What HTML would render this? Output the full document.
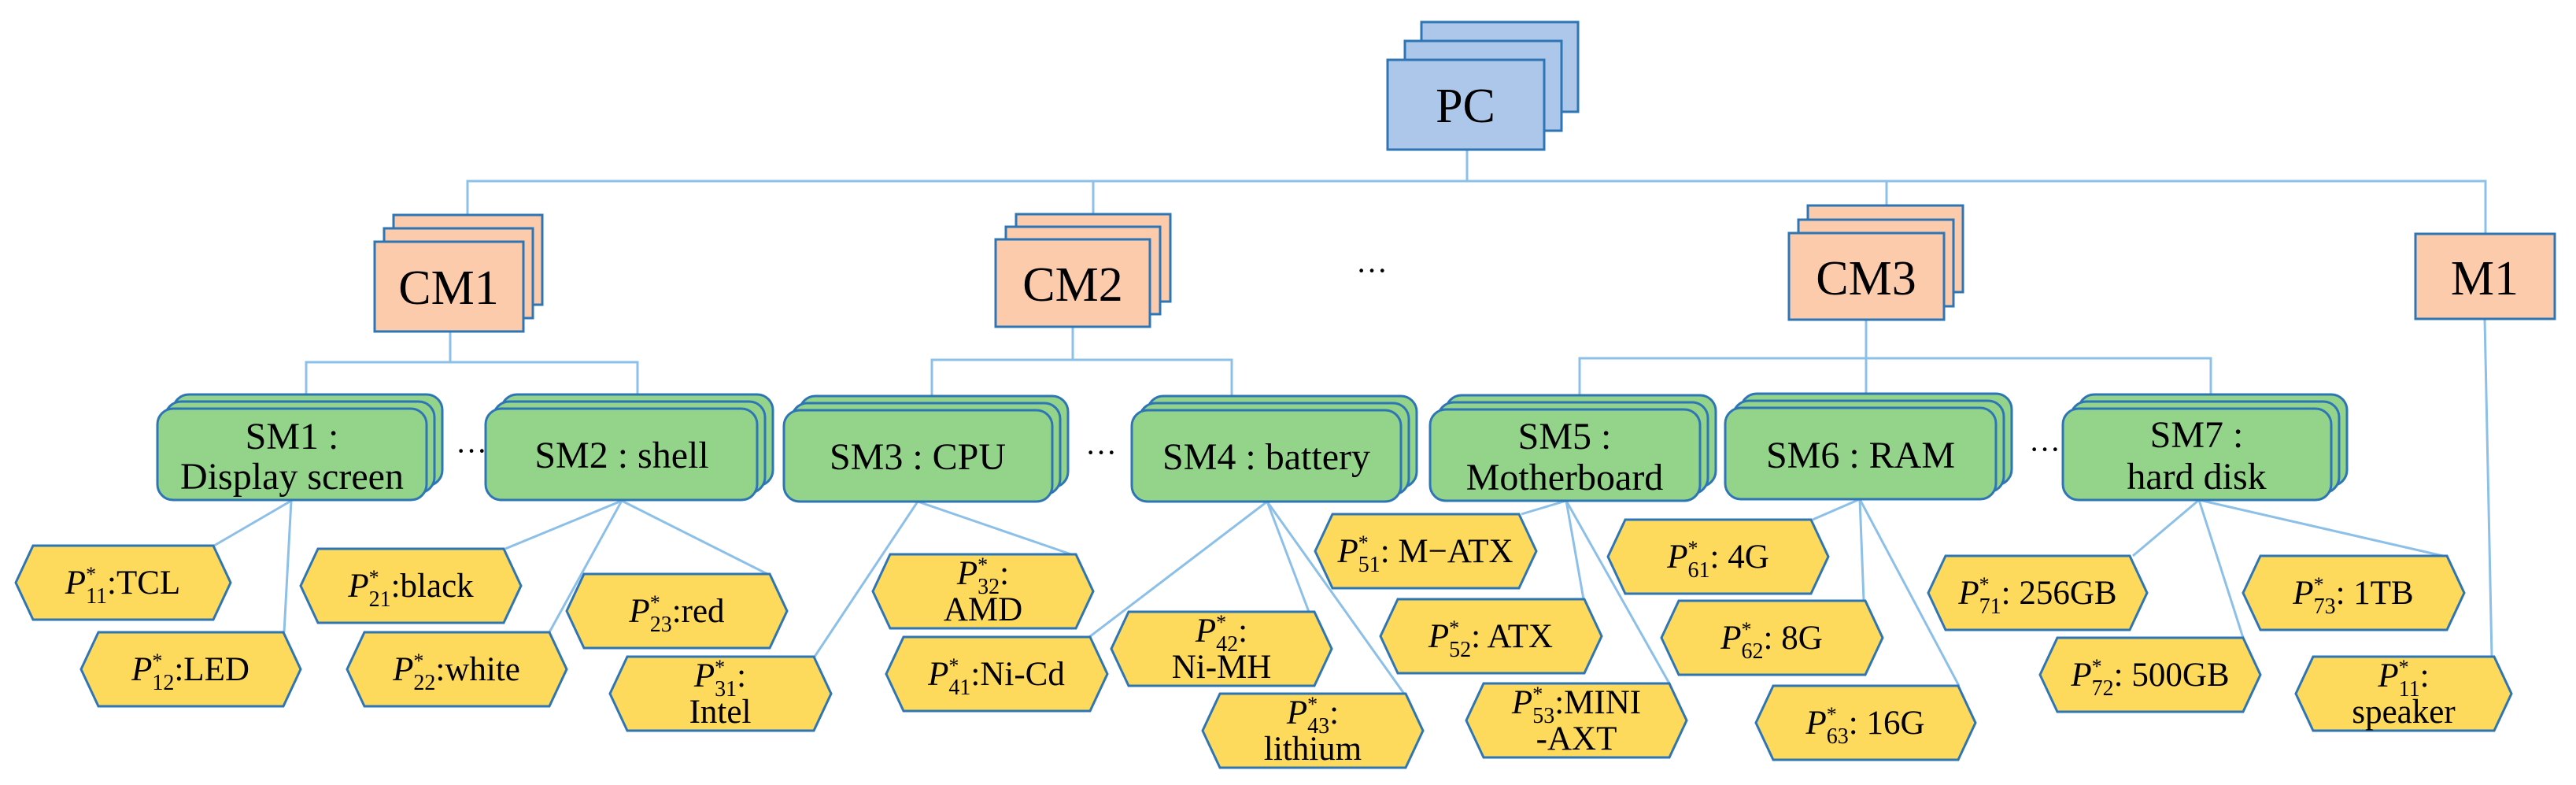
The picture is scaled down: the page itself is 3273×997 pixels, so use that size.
<!DOCTYPE html>
<html><head><meta charset="utf-8"><style>
html,body{margin:0;padding:0;background:#fff;}
svg{display:block;}
svg text{font-family:"Liberation Serif","Times New Roman",serif;fill:#000;}
</style></head><body>
<svg width="3273" height="997" viewBox="0 0 3273 997" xmlns="http://www.w3.org/2000/svg" font-family="Liberation Serif, serif">
<g fill="none" stroke="#8cc0e8" stroke-width="3">
<path d="M594,273 V230 H3158 V297"/>
<path d="M1864,190 V230"/>
<path d="M1389,230 V272"/>
<path d="M2397,230 V261"/>
<path d="M572,421 V460 M389,502 V460 H810 V502"/>
<path d="M1363,415 V457 M1184,503 V457 H1565 V503"/>
<path d="M2371,406 V501 M2007,502 V455 H2809 V502"/>
<path d="M370,636 L272,693 M370,636 L361,803"/>
<path d="M790,636 L642,697 M790,636 L698,803 M790,636 L975,729"/>
<path d="M1166,637 L1035,834 M1166,637 L1361,704"/>
<path d="M1610,637 L1384,809 M1610,637 L1663,777 M1610,637 L1784,881"/>
<path d="M1990,636 L1933,653 M1990,636 L2012,761 M1990,636 L2121,868"/>
<path d="M2363,634 L2303,660 M2363,634 L2368,763 M2363,634 L2489,871"/>
<path d="M2794,635 L2710,706 M2794,635 L2850,810 M2794,635 L3104,706"/>
<path d="M3157,405 L3166,834"/>
</g>

<g stroke="#2e75b6" stroke-width="3">
<rect x="1806" y="28" width="199" height="114" fill="#adc7ea"/>
<rect x="1785" y="52" width="199" height="114" fill="#adc7ea"/>
<rect x="1763" y="76" width="199" height="114" fill="#adc7ea"/>
<rect x="500" y="273" width="189" height="114" fill="#fccbab"/>
<rect x="488" y="290" width="189" height="114" fill="#fccbab"/>
<rect x="476" y="307" width="189" height="114" fill="#fccbab"/>
<rect x="1291" y="272" width="196" height="111" fill="#fccbab"/>
<rect x="1278" y="288" width="196" height="111" fill="#fccbab"/>
<rect x="1265" y="304" width="196" height="111" fill="#fccbab"/>
<rect x="2297" y="261" width="197" height="110" fill="#fccbab"/>
<rect x="2285" y="279" width="197" height="110" fill="#fccbab"/>
<rect x="2273" y="296" width="197" height="110" fill="#fccbab"/>
<rect x="3069" y="297" width="177" height="108" fill="#fccbab"/>
</g>

<g stroke="#2e75b6" stroke-width="3" fill="#93d38a">
<rect x="220" y="501" width="342" height="116" rx="20"/><rect x="210" y="510" width="342" height="116" rx="20"/><rect x="200" y="519" width="342" height="116" rx="20"/>
<rect x="637" y="501" width="345" height="116" rx="20"/><rect x="627" y="510" width="345" height="116" rx="20"/><rect x="617" y="519" width="345" height="116" rx="20"/>
<rect x="1016" y="503" width="341" height="116" rx="20"/><rect x="1006" y="512" width="341" height="116" rx="20"/><rect x="996" y="521" width="341" height="116" rx="20"/>
<rect x="1458" y="503" width="342" height="116" rx="20"/><rect x="1448" y="512" width="342" height="116" rx="20"/><rect x="1438" y="521" width="342" height="116" rx="20"/>
<rect x="1837" y="502" width="343" height="116" rx="20"/><rect x="1827" y="511" width="343" height="116" rx="20"/><rect x="1817" y="520" width="343" height="116" rx="20"/>
<rect x="2212" y="500" width="344" height="116" rx="20"/><rect x="2202" y="509" width="344" height="116" rx="20"/><rect x="2192" y="518" width="344" height="116" rx="20"/>
<rect x="2641" y="501" width="341" height="116" rx="20"/><rect x="2631" y="510" width="341" height="116" rx="20"/><rect x="2621" y="519" width="341" height="116" rx="20"/>
</g>

<g font-size="62" text-anchor="middle" font-family="Liberation Serif, serif">
<text x="1862" y="155">PC</text>
<text x="570" y="386">CM1</text>
<text x="1363" y="382">CM2</text>
<text x="2371" y="374">CM3</text>
<text x="3157" y="374">M1</text>
</g>
<g font-size="40" text-anchor="middle" font-family="Liberation Serif, serif">
<text x="1743" y="357">···</text>
<text x="599" y="586">···</text>
<text x="1399" y="588">···</text>
<text x="2598" y="584">···</text>
</g>
<g font-size="48" text-anchor="middle" font-family="Liberation Serif, serif">
<text x="371" y="570">SM1 :</text>
<text x="371" y="621">Display screen</text>
<text x="790" y="594">SM2 :  shell</text>
<text x="1166" y="596">SM3 :  CPU</text>
<text x="1609" y="596">SM4 :  battery</text>
<text x="1988" y="570">SM5 :</text>
<text x="1988" y="622">Motherboard</text>
<text x="2364" y="594">SM6 :  RAM</text>
<text x="2791" y="568">SM7 :</text>
<text x="2791" y="621">hard disk</text>
</g>

<g stroke="#2e75b6" stroke-width="3" fill="#fdd95c">
<polygon points="20,740 42,693 271,693 293,740 271,787 42,787"/>
<polygon points="103,850 125,803 360,803 382,850 360,897 125,897"/>
<polygon points="382,744 404,697 640,697 662,744 640,791 404,791"/>
<polygon points="441,850 463,803 698,803 720,850 698,897 463,897"/>
<polygon points="720,776 742,729 978,729 1000,776 978,823 742,823"/>
<polygon points="775,881 797,834 1034,834 1056,881 1034,928 797,928"/>
<polygon points="1109,751 1131,704 1367,704 1389,751 1367,798 1131,798"/>
<polygon points="1126,856 1148,809 1385,809 1407,856 1385,903 1148,903"/>
<polygon points="1412,824 1434,777 1670,777 1692,824 1670,871 1434,871"/>
<polygon points="1528,928 1550,881 1786,881 1808,928 1786,975 1550,975"/>
<polygon points="1671,700 1693,653 1930,653 1952,700 1930,747 1693,747"/>
<polygon points="1754,808 1776,761 2013,761 2035,808 2013,855 1776,855"/>
<polygon points="1863,915 1885,868 2121,868 2143,915 2121,962 1885,962"/>
<polygon points="2043,707 2065,660 2301,660 2323,707 2301,754 2065,754"/>
<polygon points="2111,810 2133,763 2370,763 2392,810 2370,857 2133,857"/>
<polygon points="2231,918 2253,871 2488,871 2510,918 2488,965 2253,965"/>
<polygon points="2450,753 2472,706 2706,706 2728,753 2706,800 2472,800"/>
<polygon points="2592,857 2614,810 2850,810 2872,857 2850,904 2614,904"/>
<polygon points="2850,753 2872,706 3109,706 3131,753 3109,800 2872,800"/>
<polygon points="2917,881 2939,834 3169,834 3191,881 3169,928 2939,928"/>
</g>

<g font-size="43" text-anchor="middle" font-family="Liberation Serif, serif">
<text x="156" y="754"><tspan font-style="italic">P</tspan><tspan font-size="26" dy="-16">*</tspan><tspan font-size="28" dx="-13" dy="28">11</tspan><tspan dy="-12">:TCL</tspan></text>
<text x="242" y="864"><tspan font-style="italic">P</tspan><tspan font-size="26" dy="-16">*</tspan><tspan font-size="28" dx="-13" dy="28">12</tspan><tspan dy="-12">:LED</tspan></text>
<text x="522" y="758"><tspan font-style="italic">P</tspan><tspan font-size="26" dy="-16">*</tspan><tspan font-size="28" dx="-13" dy="28">21</tspan><tspan dy="-12">:black</tspan></text>
<text x="580" y="864"><tspan font-style="italic">P</tspan><tspan font-size="26" dy="-16">*</tspan><tspan font-size="28" dx="-13" dy="28">22</tspan><tspan dy="-12">:white</tspan></text>
<text x="860" y="790"><tspan font-style="italic">P</tspan><tspan font-size="26" dy="-16">*</tspan><tspan font-size="28" dx="-13" dy="28">23</tspan><tspan dy="-12">:red</tspan></text>
<text x="915" y="872"><tspan font-style="italic">P</tspan><tspan font-size="26" dy="-16">*</tspan><tspan font-size="28" dx="-13" dy="28">31</tspan><tspan dy="-12">:</tspan></text>
<text x="915" y="918">Intel</text>
<text x="1249" y="742"><tspan font-style="italic">P</tspan><tspan font-size="26" dy="-16">*</tspan><tspan font-size="28" dx="-13" dy="28">32</tspan><tspan dy="-12">:</tspan></text>
<text x="1249" y="788">AMD</text>
<text x="1266" y="870"><tspan font-style="italic">P</tspan><tspan font-size="26" dy="-16">*</tspan><tspan font-size="28" dx="-13" dy="28">41</tspan><tspan dy="-12">:Ni-Cd</tspan></text>
<text x="1552" y="815"><tspan font-style="italic">P</tspan><tspan font-size="26" dy="-16">*</tspan><tspan font-size="28" dx="-13" dy="28">42</tspan><tspan dy="-12">:</tspan></text>
<text x="1552" y="861">Ni-MH</text>
<text x="1668" y="919"><tspan font-style="italic">P</tspan><tspan font-size="26" dy="-16">*</tspan><tspan font-size="28" dx="-13" dy="28">43</tspan><tspan dy="-12">:</tspan></text>
<text x="1668" y="965">lithium</text>
<text x="1811" y="714"><tspan font-style="italic">P</tspan><tspan font-size="26" dy="-16">*</tspan><tspan font-size="28" dx="-13" dy="28">51</tspan><tspan dy="-12">: M−ATX</tspan></text>
<text x="1894" y="822"><tspan font-style="italic">P</tspan><tspan font-size="26" dy="-16">*</tspan><tspan font-size="28" dx="-13" dy="28">52</tspan><tspan dy="-12">: ATX</tspan></text>
<text x="2003" y="906"><tspan font-style="italic">P</tspan><tspan font-size="26" dy="-16">*</tspan><tspan font-size="28" dx="-13" dy="28">53</tspan><tspan dy="-12">:MINI</tspan></text>
<text x="2003" y="952">-AXT</text>
<text x="2183" y="721"><tspan font-style="italic">P</tspan><tspan font-size="26" dy="-16">*</tspan><tspan font-size="28" dx="-13" dy="28">61</tspan><tspan dy="-12">: 4G</tspan></text>
<text x="2251" y="824"><tspan font-style="italic">P</tspan><tspan font-size="26" dy="-16">*</tspan><tspan font-size="28" dx="-13" dy="28">62</tspan><tspan dy="-12">: 8G</tspan></text>
<text x="2370" y="932"><tspan font-style="italic">P</tspan><tspan font-size="26" dy="-16">*</tspan><tspan font-size="28" dx="-13" dy="28">63</tspan><tspan dy="-12">: 16G</tspan></text>
<text x="2589" y="767"><tspan font-style="italic">P</tspan><tspan font-size="26" dy="-16">*</tspan><tspan font-size="28" dx="-13" dy="28">71</tspan><tspan dy="-12">: 256GB</tspan></text>
<text x="2732" y="871"><tspan font-style="italic">P</tspan><tspan font-size="26" dy="-16">*</tspan><tspan font-size="28" dx="-13" dy="28">72</tspan><tspan dy="-12">: 500GB</tspan></text>
<text x="2990" y="767"><tspan font-style="italic">P</tspan><tspan font-size="26" dy="-16">*</tspan><tspan font-size="28" dx="-13" dy="28">73</tspan><tspan dy="-12">: 1TB</tspan></text>
<text x="3054" y="872"><tspan font-style="italic">P</tspan><tspan font-size="26" dy="-16">*</tspan><tspan font-size="28" dx="-13" dy="28">11</tspan><tspan dy="-12">:</tspan></text>
<text x="3054" y="918">speaker</text>
</g>
</svg>
</body></html>
